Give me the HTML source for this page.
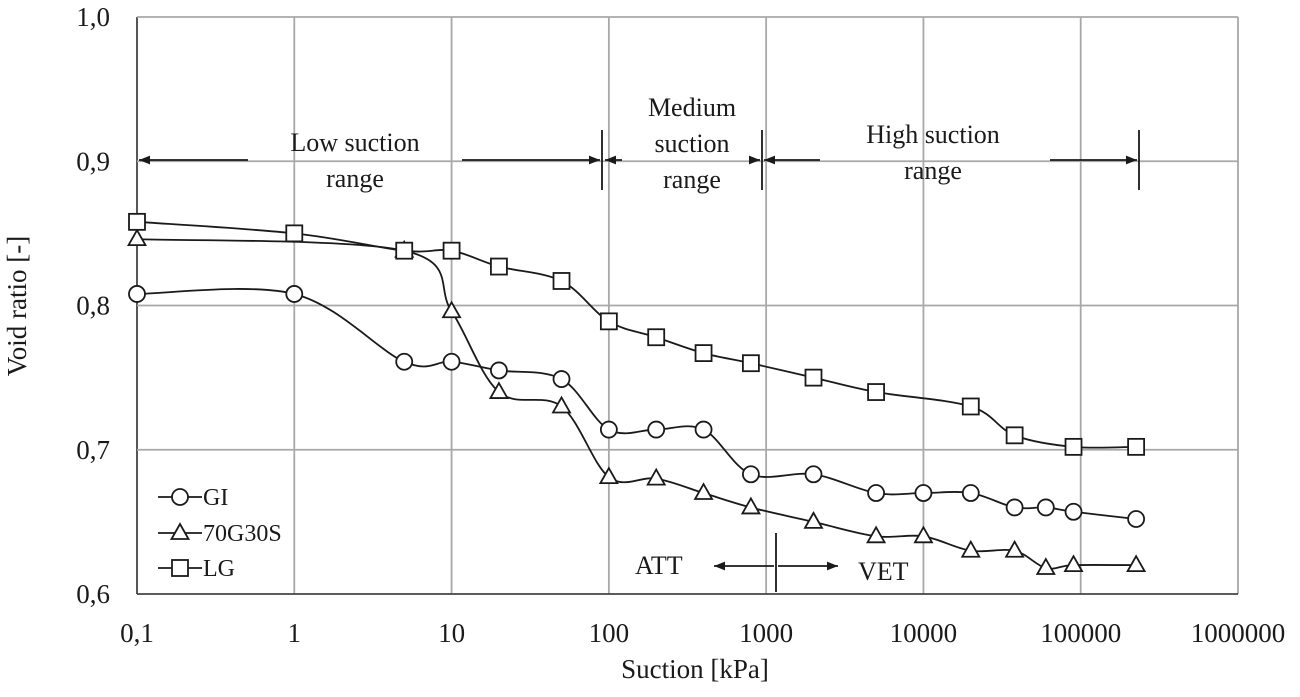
<!DOCTYPE html>
<html><head><meta charset="utf-8"><style>
body{margin:0;background:#fff}
svg text{font-family:"Liberation Serif",serif;fill:#1a1a1a}
</style></head><body>
<svg width="1300" height="692" viewBox="0 0 1300 692">
<defs>
<marker id="ah" viewBox="0 0 10 10" refX="10" refY="5" markerWidth="11" markerHeight="11" markerUnits="userSpaceOnUse" orient="auto-start-reverse"><path d="M0,1 L10,5 L0,9 z" fill="#1a1a1a"/></marker>
</defs>
<g id="grid"></g>
<g id="axes"></g>
<g id="series"></g>
<g stroke="#1a1a1a" stroke-width="1.8" font-size="26">
<line x1="248" y1="160" x2="139" y2="160" marker-end="url(#ah)"/>
<line x1="462" y1="160" x2="600" y2="160" marker-end="url(#ah)"/>
<line x1="602" y1="130" x2="602" y2="190"/>
<line x1="622" y1="160" x2="605" y2="160" marker-end="url(#ah)"/>
<line x1="750" y1="160" x2="760" y2="160" marker-end="url(#ah)"/>
<line x1="762" y1="130" x2="762" y2="190"/>
<line x1="820" y1="160" x2="764" y2="160" marker-end="url(#ah)"/>
<line x1="1050" y1="160" x2="1137" y2="160" marker-end="url(#ah)"/>
<line x1="1139" y1="130" x2="1139" y2="190"/>
<text x="355" y="151" text-anchor="middle" stroke="none">Low suction</text>
<text x="355" y="187" text-anchor="middle" stroke="none">range</text>
<text x="692" y="116" text-anchor="middle" stroke="none">Medium</text>
<text x="692" y="152" text-anchor="middle" stroke="none">suction</text>
<text x="692" y="188" text-anchor="middle" stroke="none">range</text>
<text x="933" y="143" text-anchor="middle" stroke="none">High suction</text>
<text x="933" y="179" text-anchor="middle" stroke="none">range</text>
<line x1="774" y1="566" x2="714" y2="566" marker-end="url(#ah)"/>
<line x1="778" y1="566" x2="838" y2="566" marker-end="url(#ah)"/>
<line x1="776" y1="533" x2="776" y2="592"/>
<text x="635" y="574" stroke="none">ATT</text>
<text x="858" y="580" stroke="none">VET</text>
</g>
<g id="legend" font-size="24"></g>
<text x="695" y="678" font-size="27" text-anchor="middle">Suction [kPa]</text>
<text transform="translate(26,306) rotate(-90)" font-size="27" text-anchor="middle">Void ratio [-]</text>
</svg>
<script>
const xTicks=[0.1,1,10,100,1000,10000,100000,1000000];
const xTickLabels=["0,1","1","10","100","1000","10000","100000","1000000"];
const yTicks=[0.6,0.7,0.8,0.9,1.0];
const yTickLabels=["0,6","0,7","0,8","0,9","1,0"];
const giX=[0.1,1,5,10,20,50,100,200,400,800,2000,5000,10000,20000,38000,60000,90000,225000];
const giY=[0.808,0.808,0.761,0.761,0.755,0.749,0.714,0.714,0.714,0.683,0.683,0.670,0.670,0.670,0.660,0.660,0.657,0.652];
const ssX=[0.1,5,10,20,50,100,200,400,800,2000,5000,10000,20000,38000,60000,90000,225000];
const ssY=[0.846,0.838,0.796,0.740,0.730,0.681,0.680,0.670,0.660,0.650,0.640,0.640,0.630,0.630,0.618,0.620,0.620];
const lgX=[0.1,1,5,10,20,50,100,200,400,800,2000,5000,20000,38000,90000,225000];
const lgY=[0.858,0.850,0.838,0.838,0.827,0.817,0.789,0.778,0.767,0.760,0.750,0.740,0.730,0.710,0.702,0.702];
const X0=137,X1=1238,Y0=594,Y1=17;
const xs=v=>X0+(Math.log10(v)+1)/7*(X1-X0);
const ys=v=>Y0-(v-0.6)/0.4*(Y0-Y1);
const NS="http://www.w3.org/2000/svg";
function mk(tag,attrs,parent,txt){const e=document.createElementNS(NS,tag);for(const k in attrs)e.setAttribute(k,attrs[k]);if(txt!==undefined)e.textContent=txt;parent.appendChild(e);return e;}
const grid=document.getElementById('grid'),axes=document.getElementById('axes');
xTicks.forEach((t,i)=>{const x=xs(t);
 const l=mk('line',{x1:x,y1:Y1,x2:x,y2:Y0,stroke:i==0?'#444':'#a8a8a8','stroke-width':1.8},grid);
 
 const tx=mk('text',{x:x,y:642,'font-size':27,'text-anchor':'middle'},axes,xTickLabels[i]);
 });
yTicks.forEach((t,i)=>{const y=ys(t);
 const l=mk('line',{x1:X0,y1:y,x2:X1,y2:y,stroke:i==0?'#444':'#a8a8a8','stroke-width':1.8},grid);
 
 const tx=mk('text',{x:X0-27,y:y+9,'font-size':27,'text-anchor':'end'},axes,yTickLabels[i]);
 });
function path(pts){let d='M'+pts[0][0]+','+pts[0][1];
 for(let i=0;i<pts.length-1;i++){const p0=pts[Math.max(0,i-1)],p1=pts[i],p2=pts[i+1],p3=pts[Math.min(pts.length-1,i+2)];
  const c1=[p1[0]+(p2[0]-p0[0])/6,p1[1]+(p2[1]-p0[1])/6],c2=[p2[0]-(p3[0]-p1[0])/6,p2[1]-(p3[1]-p1[1])/6];
  d+=` C${c1[0]},${c1[1]} ${c2[0]},${c2[1]} ${p2[0]},${p2[1]}`;}return d;}
function marker(g,type,x,y){let e;
 if(type=='c')e=mk('circle',{cx:x,cy:y,r:8,fill:'#fff',stroke:'#1a1a1a','stroke-width':1.8},g);
 else if(type=='t')e=mk('path',{d:`M${x},${y-9} L${x+8.5},${y+6} L${x-8.5},${y+6} Z`,fill:'#fff',stroke:'#1a1a1a','stroke-width':1.8},g);
 else e=mk('rect',{x:x-8,y:y-8,width:16,height:16,fill:'#fff',stroke:'#1a1a1a','stroke-width':1.8},g);
 return e;}
const sg=document.getElementById('series');
[[giX,giY,'c','gi'],[ssX,ssY,'t','70g30s'],[lgX,lgY,'s','lg']].forEach(([X,Y,m,n])=>{
 const g=mk('g',{},sg);
 const pts=X.map((v,i)=>[xs(v),ys(Y[i])]);
 const p=mk('path',{d:path(pts),fill:'none',stroke:'#1a1a1a','stroke-width':1.8},g);
 
 pts.forEach(q=>{const e=marker(g,m,q[0],q[1]);});
});
const lg=document.getElementById('legend');
[['GI','c',497],['70G30S','t',533],['LG','s',568]].forEach(([t,m,y])=>{
 const g=mk('g',{},lg);
 mk('line',{x1:158,y1:y,x2:202,y2:y,stroke:'#1a1a1a','stroke-width':1.8},g);
 marker(g,m,180,y);
 mk('text',{x:203,y:y+8},g,t);});
</script>
</body></html>
